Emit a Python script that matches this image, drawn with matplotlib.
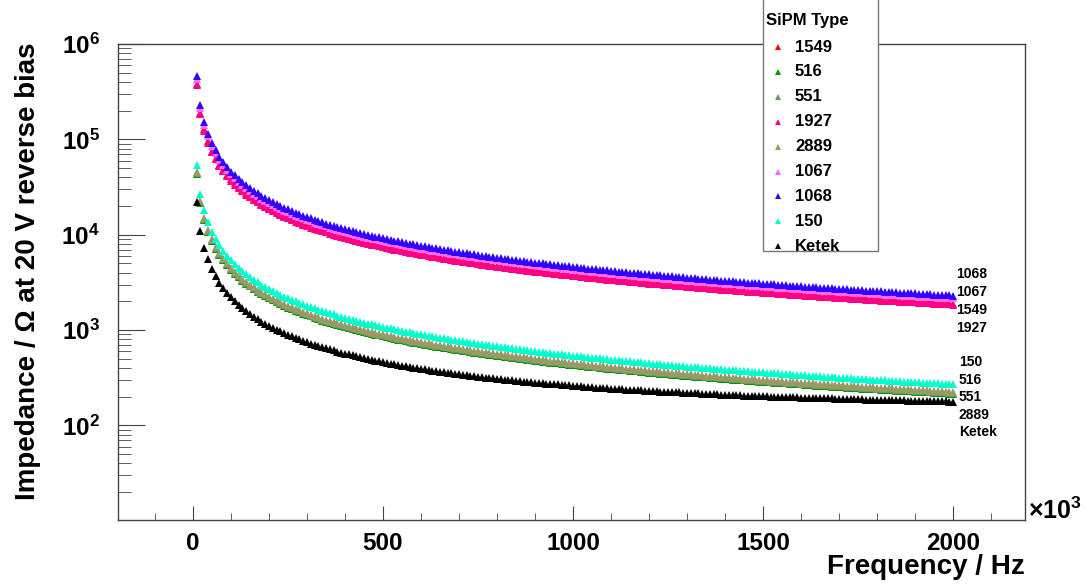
import matplotlib
matplotlib.use('Agg')
import matplotlib.pyplot as plt
from matplotlib.lines import Line2D
from matplotlib.patches import Rectangle
from matplotlib.ticker import FixedLocator, FuncFormatter, MultipleLocator, LogLocator, NullFormatter
import numpy as np

plt.rcParams['font.family'] = ['Liberation Sans', 'DejaVu Sans']
plt.rcParams['font.weight'] = 'bold'
plt.rcParams['mathtext.fontset'] = 'custom'
plt.rcParams['mathtext.rm'] = 'Liberation Sans:bold'
plt.rcParams['mathtext.bf'] = 'Liberation Sans:bold'
plt.rcParams['mathtext.it'] = 'Liberation Sans:bold'

# frequency sweep, kHz (axis is labelled x10^3 Hz)
freq_khz = list(range(10, 2001, 10))

# impedance at 20 V reverse bias, Ohm, one value per sweep point
z_1549 = [
    380000, 190000, 127000, 95000, 76000, 63300, 54300, 47500, 42200, 38000, 34500, 31700, 29200, 27100, 25300, 23800, 22400, 21100, 20000, 19000,
    18100, 17300, 16500, 15800, 15200, 14600, 14100, 13600, 13100, 12700, 12300, 11900, 11500, 11200, 10900, 10600, 10300, 10000, 9740, 9500,
    9270, 9050, 8840, 8640, 8440, 8260, 8090, 7920, 7760, 7600, 7450, 7310, 7170, 7040, 6910, 6790, 6670, 6550, 6440, 6330,
    6230, 6130, 6030, 5940, 5850, 5760, 5670, 5590, 5510, 5430, 5350, 5280, 5210, 5140, 5070, 5000, 4940, 4870, 4810, 4750,
    4690, 4630, 4580, 4520, 4470, 4420, 4370, 4320, 4270, 4220, 4180, 4130, 4090, 4040, 4000, 3960, 3920, 3880, 3840, 3800,
    3760, 3730, 3690, 3650, 3620, 3580, 3550, 3520, 3490, 3450, 3420, 3390, 3360, 3330, 3300, 3280, 3250, 3220, 3190, 3170,
    3140, 3110, 3090, 3060, 3040, 3020, 2990, 2970, 2950, 2920, 2900, 2880, 2860, 2840, 2810, 2790, 2770, 2750, 2730, 2710,
    2690, 2680, 2660, 2640, 2620, 2600, 2590, 2570, 2550, 2530, 2520, 2500, 2480, 2470, 2450, 2440, 2420, 2410, 2390, 2380,
    2360, 2350, 2330, 2320, 2300, 2290, 2280, 2260, 2250, 2240, 2220, 2210, 2200, 2180, 2170, 2160, 2150, 2130, 2120, 2110,
    2100, 2090, 2080, 2070, 2050, 2040, 2030, 2020, 2010, 2000, 1990, 1980, 1970, 1960, 1950, 1940, 1930, 1920, 1910, 1900,
]
z_516 = [
    43000, 21500, 14300, 10800, 8600, 7170, 6140, 5380, 4780, 4300, 3910, 3580, 3310, 3070, 2870, 2690, 2530, 2390, 2260, 2150,
    2050, 1950, 1870, 1790, 1720, 1650, 1590, 1540, 1480, 1430, 1390, 1340, 1300, 1260, 1230, 1190, 1160, 1130, 1100, 1080,
    1050, 1020, 1000, 977, 956, 935, 915, 896, 878, 860, 843, 827, 811, 796, 782, 768, 754, 741, 729, 717,
    705, 694, 683, 672, 662, 652, 642, 632, 623, 614, 606, 597, 589, 581, 573, 566, 558, 551, 544, 538,
    531, 524, 518, 512, 506, 500, 494, 489, 483, 478, 473, 467, 462, 457, 453, 448, 443, 439, 434, 430,
    426, 422, 417, 413, 410, 406, 402, 398, 394, 391, 387, 384, 381, 377, 374, 371, 368, 364, 361, 358,
    355, 352, 350, 347, 344, 341, 339, 336, 333, 331, 328, 326, 323, 321, 319, 316, 314, 312, 309, 307,
    305, 303, 301, 299, 297, 295, 293, 291, 289, 287, 285, 283, 281, 279, 277, 276, 274, 272, 270, 269,
    267, 265, 264, 262, 261, 259, 257, 256, 254, 253, 251, 250, 249, 247, 246, 244, 243, 242, 240, 239,
    238, 236, 235, 234, 232, 231, 230, 229, 228, 226, 225, 224, 223, 222, 221, 219, 218, 217, 216, 215,
]
z_551 = [
    44000, 22000, 14700, 11000, 8800, 7330, 6290, 5500, 4890, 4400, 4000, 3670, 3380, 3140, 2930, 2750, 2590, 2440, 2320, 2200,
    2100, 2000, 1910, 1830, 1760, 1690, 1630, 1570, 1520, 1470, 1420, 1380, 1330, 1290, 1260, 1220, 1190, 1160, 1130, 1100,
    1070, 1050, 1020, 1000, 978, 957, 936, 917, 898, 880, 863, 846, 830, 815, 800, 786, 772, 759, 746, 733,
    721, 710, 698, 688, 677, 667, 657, 647, 638, 629, 620, 611, 603, 595, 587, 579, 571, 564, 557, 550,
    543, 537, 530, 524, 518, 512, 506, 500, 494, 489, 484, 478, 473, 468, 463, 458, 454, 449, 444, 440,
    436, 431, 427, 423, 419, 415, 411, 407, 404, 400, 396, 393, 389, 386, 383, 379, 376, 373, 370, 367,
    364, 361, 358, 355, 352, 349, 346, 344, 341, 338, 336, 333, 331, 328, 326, 324, 321, 319, 317, 314,
    312, 310, 308, 306, 303, 301, 299, 297, 295, 293, 291, 289, 288, 286, 284, 282, 280, 278, 277, 275,
    273, 272, 270, 268, 267, 265, 263, 262, 260, 259, 257, 256, 254, 253, 251, 250, 249, 247, 246, 244,
    243, 242, 240, 239, 238, 237, 235, 234, 233, 232, 230, 229, 228, 227, 226, 224, 223, 222, 221, 220,
]
z_1927 = [
    370000, 185000, 123000, 92500, 74000, 61700, 52900, 46300, 41100, 37000, 33600, 30800, 28500, 26400, 24700, 23100, 21800, 20600, 19500, 18500,
    17600, 16800, 16100, 15400, 14800, 14200, 13700, 13200, 12800, 12300, 11900, 11600, 11200, 10900, 10600, 10300, 10000, 9740, 9490, 9250,
    9020, 8810, 8600, 8410, 8220, 8040, 7870, 7710, 7550, 7400, 7250, 7120, 6980, 6850, 6730, 6610, 6490, 6380, 6270, 6170,
    6070, 5970, 5870, 5780, 5690, 5610, 5520, 5440, 5360, 5290, 5210, 5140, 5070, 5000, 4930, 4870, 4810, 4740, 4680, 4630,
    4570, 4510, 4460, 4400, 4350, 4300, 4250, 4200, 4160, 4110, 4070, 4020, 3980, 3940, 3890, 3850, 3810, 3780, 3740, 3700,
    3660, 3630, 3590, 3560, 3520, 3490, 3460, 3430, 3390, 3360, 3330, 3300, 3270, 3250, 3220, 3190, 3160, 3140, 3110, 3080,
    3060, 3030, 3010, 2980, 2960, 2940, 2910, 2890, 2870, 2850, 2820, 2800, 2780, 2760, 2740, 2720, 2700, 2680, 2660, 2640,
    2620, 2610, 2590, 2570, 2550, 2530, 2520, 2500, 2480, 2470, 2450, 2430, 2420, 2400, 2390, 2370, 2360, 2340, 2330, 2310,
    2300, 2280, 2270, 2260, 2240, 2230, 2220, 2200, 2190, 2180, 2160, 2150, 2140, 2130, 2110, 2100, 2090, 2080, 2070, 2060,
    2040, 2030, 2020, 2010, 2000, 1990, 1980, 1970, 1960, 1950, 1940, 1930, 1920, 1910, 1900, 1890, 1880, 1870, 1860, 1850,
]
z_2889 = [
    45000, 22500, 15000, 11300, 9000, 7500, 6430, 5630, 5000, 4500, 4090, 3750, 3460, 3210, 3000, 2810, 2650, 2500, 2370, 2250,
    2140, 2050, 1960, 1880, 1800, 1730, 1670, 1610, 1550, 1500, 1450, 1410, 1360, 1320, 1290, 1250, 1220, 1180, 1150, 1130,
    1100, 1070, 1050, 1020, 1000, 978, 957, 938, 918, 900, 882, 865, 849, 833, 818, 804, 789, 776, 763, 750,
    738, 726, 714, 703, 692, 682, 672, 662, 652, 643, 634, 625, 616, 608, 600, 592, 584, 577, 570, 563,
    556, 549, 542, 536, 529, 523, 517, 511, 506, 500, 495, 489, 484, 479, 474, 469, 464, 459, 455, 450,
    446, 441, 437, 433, 429, 425, 421, 417, 413, 409, 405, 402, 398, 395, 391, 388, 385, 381, 378, 375,
    372, 369, 366, 363, 360, 357, 354, 352, 349, 346, 344, 341, 338, 336, 333, 331, 328, 326, 324, 321,
    319, 317, 315, 313, 310, 308, 306, 304, 302, 300, 298, 296, 294, 292, 290, 288, 287, 285, 283, 281,
    280, 278, 276, 274, 273, 271, 269, 268, 266, 265, 263, 262, 260, 259, 257, 256, 254, 253, 251, 250,
    249, 247, 246, 245, 243, 242, 241, 239, 238, 237, 236, 234, 233, 232, 231, 230, 228, 227, 226, 225,
]
z_1067 = [
    430000, 215000, 143000, 108000, 86000, 71700, 61400, 53800, 47800, 43000, 39100, 35800, 33100, 30700, 28700, 26900, 25300, 23900, 22600, 21500,
    20500, 19500, 18700, 17900, 17200, 16500, 15900, 15400, 14800, 14300, 13900, 13400, 13000, 12600, 12300, 11900, 11600, 11300, 11000, 10800,
    10500, 10200, 10000, 9770, 9560, 9350, 9150, 8960, 8780, 8600, 8430, 8270, 8110, 7960, 7820, 7680, 7540, 7410, 7290, 7170,
    7050, 6940, 6830, 6720, 6620, 6520, 6420, 6320, 6230, 6140, 6060, 5970, 5890, 5810, 5730, 5660, 5580, 5510, 5440, 5380,
    5310, 5240, 5180, 5120, 5060, 5000, 4940, 4890, 4830, 4780, 4730, 4670, 4620, 4570, 4530, 4480, 4430, 4390, 4340, 4300,
    4260, 4220, 4170, 4130, 4100, 4060, 4020, 3980, 3940, 3910, 3870, 3840, 3810, 3770, 3740, 3710, 3680, 3640, 3610, 3580,
    3550, 3520, 3500, 3470, 3440, 3410, 3390, 3360, 3330, 3310, 3280, 3260, 3230, 3210, 3190, 3160, 3140, 3120, 3090, 3070,
    3050, 3030, 3010, 2990, 2970, 2950, 2930, 2910, 2890, 2870, 2850, 2830, 2810, 2790, 2770, 2760, 2740, 2720, 2700, 2690,
    2670, 2650, 2640, 2620, 2610, 2590, 2570, 2560, 2540, 2530, 2510, 2500, 2490, 2470, 2460, 2440, 2430, 2420, 2400, 2390,
    2380, 2360, 2350, 2340, 2320, 2310, 2300, 2290, 2280, 2260, 2250, 2240, 2230, 2220, 2210, 2190, 2180, 2170, 2160, 2150,
]
z_1068 = [
    460000, 230000, 153000, 115000, 92000, 76700, 65700, 57500, 51100, 46000, 41800, 38300, 35400, 32900, 30700, 28800, 27100, 25600, 24200, 23000,
    21900, 20900, 20000, 19200, 18400, 17700, 17000, 16400, 15900, 15300, 14800, 14400, 13900, 13500, 13100, 12800, 12400, 12100, 11800, 11500,
    11200, 11000, 10700, 10500, 10200, 10000, 9790, 9580, 9390, 9200, 9020, 8850, 8680, 8520, 8360, 8210, 8070, 7930, 7800, 7670,
    7540, 7420, 7300, 7190, 7080, 6970, 6870, 6760, 6670, 6570, 6480, 6390, 6300, 6220, 6130, 6050, 5970, 5900, 5820, 5750,
    5680, 5610, 5540, 5480, 5410, 5350, 5290, 5230, 5170, 5110, 5050, 5000, 4950, 4890, 4840, 4790, 4740, 4690, 4650, 4600,
    4550, 4510, 4470, 4420, 4380, 4340, 4300, 4260, 4220, 4180, 4140, 4110, 4070, 4040, 4000, 3970, 3930, 3900, 3870, 3830,
    3800, 3770, 3740, 3710, 3680, 3650, 3620, 3590, 3570, 3540, 3510, 3480, 3460, 3430, 3410, 3380, 3360, 3330, 3310, 3290,
    3260, 3240, 3220, 3190, 3170, 3150, 3130, 3110, 3090, 3070, 3050, 3030, 3010, 2990, 2970, 2950, 2930, 2910, 2890, 2880,
    2860, 2840, 2820, 2800, 2790, 2770, 2750, 2740, 2720, 2710, 2690, 2670, 2660, 2640, 2630, 2610, 2600, 2580, 2570, 2560,
    2540, 2530, 2510, 2500, 2490, 2470, 2460, 2450, 2430, 2420, 2410, 2400, 2380, 2370, 2360, 2350, 2340, 2320, 2310, 2300,
]
z_150 = [
    54000, 27000, 18000, 13500, 10800, 9000, 7710, 6750, 6000, 5400, 4910, 4500, 4150, 3860, 3600, 3380, 3180, 3000, 2840, 2700,
    2570, 2450, 2350, 2250, 2160, 2080, 2000, 1930, 1860, 1800, 1740, 1690, 1640, 1590, 1540, 1500, 1460, 1420, 1380, 1350,
    1320, 1290, 1260, 1230, 1200, 1170, 1150, 1130, 1100, 1080, 1060, 1040, 1020, 1000, 982, 964, 947, 931, 915, 900,
    885, 871, 857, 844, 831, 818, 806, 794, 783, 771, 761, 750, 740, 730, 720, 711, 701, 692, 684, 675,
    667, 659, 651, 643, 635, 628, 621, 614, 607, 600, 593, 587, 581, 574, 568, 563, 557, 551, 545, 540,
    535, 529, 524, 519, 514, 509, 505, 500, 495, 491, 486, 482, 478, 474, 470, 466, 462, 458, 454, 450,
    446, 443, 439, 435, 432, 429, 425, 422, 419, 415, 412, 409, 406, 403, 400, 397, 394, 392, 389, 386,
    383, 380, 378, 375, 372, 370, 367, 365, 362, 360, 358, 355, 353, 351, 348, 346, 344, 342, 340, 338,
    335, 333, 331, 329, 327, 325, 323, 321, 320, 318, 316, 314, 312, 310, 309, 307, 305, 303, 302, 300,
    298, 297, 295, 293, 292, 290, 289, 287, 286, 284, 283, 281, 280, 278, 277, 276, 274, 273, 271, 270,
]
z_ketek = [
    22000, 11000, 7330, 5500, 4400, 3670, 3150, 2750, 2450, 2200, 2000, 1840, 1700, 1580, 1470, 1380, 1300, 1230, 1170, 1110,
    1060, 1010, 967, 927, 891, 858, 827, 798, 771, 747, 723, 702, 681, 662, 644, 627, 611, 596, 581, 568,
    555, 542, 530, 519, 509, 498, 489, 479, 470, 462, 454, 446, 438, 431, 424, 417, 411, 404, 398, 392,
    387, 381, 376, 371, 366, 362, 357, 353, 348, 344, 340, 336, 332, 329, 325, 322, 318, 315, 312, 309,
    306, 303, 300, 297, 294, 292, 289, 287, 284, 282, 279, 277, 275, 273, 271, 269, 267, 265, 263, 261,
    259, 257, 255, 254, 252, 250, 249, 247, 246, 244, 243, 241, 240, 238, 237, 236, 234, 233, 232, 231,
    229, 228, 227, 226, 225, 224, 223, 222, 221, 220, 219, 218, 217, 216, 215, 214, 213, 212, 211, 210,
    210, 209, 208, 207, 206, 206, 205, 204, 204, 203, 202, 201, 201, 200, 199, 199, 198, 197, 197, 196,
    196, 195, 195, 194, 193, 193, 192, 192, 191, 191, 190, 190, 189, 189, 188, 188, 187, 187, 186, 186,
    185, 185, 185, 184, 184, 183, 183, 182, 182, 182, 181, 181, 181, 180, 180, 179, 179, 179, 178, 178,
]

sipm_types = ['1549', '516', '551', '1927', '2889', '1067', '1068', '150', 'Ketek']
series = [z_1549, z_516, z_551, z_1927, z_2889, z_1067, z_1068, z_150, z_ketek]
colors = ['#ff0000', '#009900', '#669966', '#ff0088', '#999966',
          '#ff66ff', '#3300ff', '#00ffcc', '#000000']

# end-of-curve tags, top to bottom
upper_tags = ['1068', '1067', '1549', '1927']
lower_tags = ['150', '516', '551', '2889', 'Ketek']

W, H = 1089, 585
fig = plt.figure(figsize=(W / 100, H / 100), dpi=100)
ax = fig.add_axes([118 / W, 65 / H, 907 / W, 476 / H])

for name, z, c in zip(sipm_types, series, colors):
    ax.plot(freq_khz, z, linestyle='none', marker='^', markersize=6,
            markerfacecolor=c, markeredgecolor=c, markeredgewidth=0, label=name)

ax.set_yscale('log')
ax.set_xlim(-197, 2189)
ax.set_ylim(10.2, 1e6)

ax.xaxis.set_major_locator(MultipleLocator(500))
ax.xaxis.set_minor_locator(MultipleLocator(100))
ax.yaxis.set_major_locator(FixedLocator([1e2, 1e3, 1e4, 1e5, 1e6]))
ax.yaxis.set_minor_locator(LogLocator(base=10, subs=range(2, 10), numticks=20))
ax.yaxis.set_minor_formatter(NullFormatter())
ax.yaxis.set_major_formatter(FuncFormatter(lambda v, p: r'$10^{%d}$' % round(np.log10(v))))
ax.xaxis.set_major_formatter(FuncFormatter(lambda v, p: '%d' % v))

frame_col = '#444444'
for s in ax.spines.values():
    s.set_color(frame_col)
    s.set_linewidth(1.0)
ax.tick_params(axis='both', which='both', direction='in', top=False, right=False,
               color=frame_col, labelsize=17.5, labelcolor='black')
ax.tick_params(axis='y', which='major', length=19.5, pad=13)
ax.tick_params(axis='y', which='minor', length=9.7)
ax.tick_params(axis='x', which='major', length=10, pad=9)
ax.tick_params(axis='x', which='minor', length=5)

for i, t in enumerate(upper_tags):
    ax.text(0.924, 0.5084 - i * 0.0376, t, transform=ax.transAxes, fontsize=10,
            fontweight='bold', va='baseline', ha='left')
for i, t in enumerate(lower_tags):
    ax.text(0.927, 0.3235 - i * 0.0368, t, transform=ax.transAxes, fontsize=10,
            fontweight='bold', va='baseline', ha='left')

fig.text(28 / W, 1 - 42 / H, 'Impedance / Ω at 20 V reverse bias', rotation=90,
         ha='center', va='top', fontsize=20, fontweight='bold')
fig.text(1025 / W, 1 - 574 / H, 'Frequency / Hz', ha='right', va='baseline',
         fontsize=20, fontweight='bold')
fig.text(1028 / W, 1 - 519 / H, r'$\times\mathbf{10^{3}}$', ha='left', va='baseline',
         fontsize=18)

# legend box drawn by hand (pixel layout), runs off the top of the canvas
def px(x, y):
    return x / W, 1 - y / H

box_x0, box_x1, box_y1 = 763, 878, 251
fig.add_artist(Rectangle(px(box_x0, box_y1), (box_x1 - box_x0) / W, (box_y1 + 10) / H,
                         transform=fig.transFigure, facecolor='white',
                         edgecolor='#777777', linewidth=1.0, zorder=10))
fig.text(*px(766, 20), 'SiPM Type', fontsize=12, fontweight='bold',
         ha='left', va='center', zorder=11)
for i, (name, c) in enumerate(zip(sipm_types, colors)):
    y = 47 + 24.9 * i
    fig.add_artist(Line2D([778 / W], [1 - y / H], transform=fig.transFigure,
                          linestyle='none', marker='^', markersize=5,
                          markerfacecolor=c, markeredgecolor=c, markeredgewidth=0,
                          zorder=11))
    fig.text(*px(795, y), name, fontsize=12, fontweight='bold',
             ha='left', va='center', zorder=11)

fig.savefig('out.png', dpi=100, facecolor='white')
